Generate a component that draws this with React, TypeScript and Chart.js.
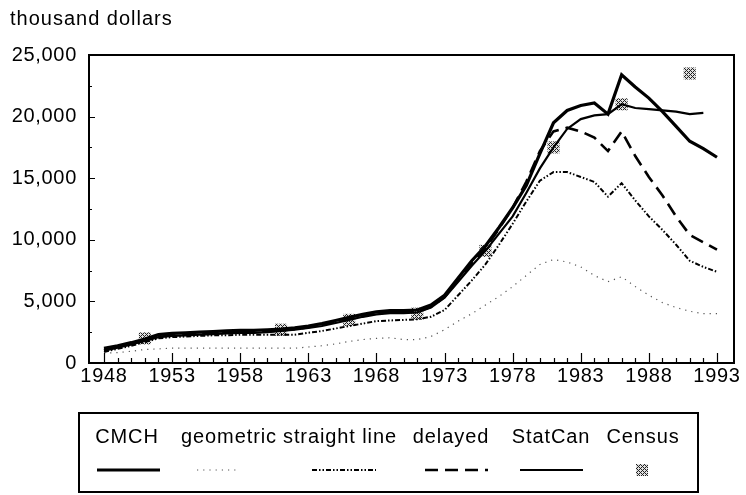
import React, { useEffect, useRef } from 'react';
import { Chart, registerables } from 'chart.js';

Chart.register(...registerables);

// ---------------- data ----------------
const years = [
  1948, 1949, 1950, 1951, 1952, 1953, 1954, 1955, 1956, 1957,
  1958, 1959, 1960, 1961, 1962, 1963, 1964, 1965, 1966, 1967,
  1968, 1969, 1970, 1971, 1972, 1973, 1974, 1975, 1976, 1977,
  1978, 1979, 1980, 1981, 1982, 1983, 1984, 1985, 1986, 1987,
  1988, 1989, 1990, 1991, 1992, 1993,
];

const cmch = [
  1200, 1400, 1650, 1950, 2300, 2400, 2450, 2500, 2550, 2600,
  2650, 2650, 2700, 2750, 2850, 3000, 3200, 3450, 3700, 3950,
  4150, 4250, 4250, 4300, 4700, 5500, 6900, 8300, 9500, 11000,
  12600, 14400, 17000, 19500, 20500, 20900, 21100, 20200, 23400, 22400,
  21500, 20400, 19200, 18000, 17400, 16700,
];

const geometric = [
  800, 850, 950, 1100, 1150, 1200, 1200, 1200, 1200, 1200,
  1200, 1200, 1200, 1200, 1200, 1300, 1400, 1550, 1750, 1900,
  2000, 2050, 1900, 1900, 2150, 2700, 3400, 4000, 4700, 5400,
  6200, 7100, 8000, 8400, 8200, 7800, 7100, 6600, 7000, 6200,
  5500, 4900, 4500, 4200, 4000, 4000,
];

const straightLine = [
  900, 1150, 1400, 1700, 2000, 2100, 2150, 2200, 2250, 2250,
  2300, 2300, 2300, 2300, 2300, 2450, 2600, 2800, 3000, 3200,
  3400, 3450, 3500, 3550, 3750, 4300, 5500, 6700, 8000, 9600,
  11300, 13100, 14800, 15500, 15500, 15100, 14700, 13500, 14600, 13200,
  11900, 10800, 9600, 8300, 7800, 7400,
];

const delayed = [
  1050, 1300, 1550, 1850, 2150, 2250, 2300, 2350, 2400, 2450,
  2500, 2500, 2550, 2650, 2750, 2900, 3100, 3350, 3600, 3850,
  4050, 4150, 4150, 4150, 4550, 5350, 6700, 8100, 9300, 10900,
  12600, 14700, 17200, 18800, 19100, 18800, 18300, 17200, 18800, 16800,
  15100, 13600, 11900, 10400, 9800, 9200,
];

const statCan = [
  1000, 1250, 1500, 1800, 2100, 2200, 2250, 2300, 2350, 2400,
  2450, 2450, 2500, 2600, 2700, 2850, 3000, 3250, 3500, 3750,
  3950, 4050, 4050, 4100, 4500, 5300, 6600, 7900, 9100, 10500,
  11900, 13800, 15800, 17500, 19000, 19800, 20100, 20200, 21000, 20700,
  20600, 20500, 20400, 20200, 20300, null,
];

const censusYears = [1951, 1961, 1966, 1971, 1976, 1981, 1986, 1991];
const censusValues = [2000, 2700, 3500, 4000, 9100, 17500, 21000, 23500];

const xTickYears = [1948, 1953, 1958, 1963, 1968, 1973, 1978, 1983, 1988, 1993];
const seriesNames = ['CMCH', 'geometric', 'straight line', 'delayed', 'StatCan', 'Census'];
const yAxisTitle = 'thousand dollars';

// ---------------- style ----------------
const FONT = '"Liberation Sans", Arial, Helvetica, sans-serif';
const FONT_SIZE = 20;

function makeHatch(): CanvasPattern | string {
  const c = document.createElement('canvas');
  c.width = 4;
  c.height = 4;
  const g = c.getContext('2d');
  if (!g) return '#888';
  g.fillStyle = '#e0e0e0';
  g.fillRect(0, 0, 4, 4);
  g.fillStyle = '#222';
  for (let x = 0; x < 4; x++) {
    for (let y = 0; y < 4; y++) {
      if ((x + y) % 4 === 0 || (x - y + 4) % 4 === 0) g.fillRect(x, y, 1, 1);
    }
  }
  return g.createPattern(c, 'repeat') || '#888';
}

const toPoints = (vals: (number | null)[]) => years.map((yr, i) => ({ x: yr, y: vals[i] }));

// legend layout (pixel positions of the legend box)
const legendBox = { left: 79, top: 413, right: 698, bottom: 492 };
const legendTextCenters = [127, 229, 340, 451, 551, 643];
const legendSampleSpans: [number, number][] = [
  [97, 160], [197, 240], [312, 376], [425, 488], [520, 583], [642, 642],
];
const legendTextBaseline = 443;
const legendSampleY = 470;

const framePlugin = {
  id: 'framePlugin',
  beforeDraw(chart: any) {
    const ctx = chart.ctx;
    ctx.save();
    ctx.fillStyle = '#fff';
    ctx.fillRect(0, 0, chart.width, chart.height);
    ctx.restore();
    (ctx as any).letterSpacing = '0.7px';
  },
  afterDraw(chart: any) {
    const ctx: CanvasRenderingContext2D = chart.ctx;
    const { left, top, right, bottom } = chart.chartArea;
    const xs = chart.scales.x;
    const ys = chart.scales.y;
    ctx.save();
    ctx.strokeStyle = '#000';
    ctx.setLineDash([]);
    // plot frame
    ctx.lineWidth = 2;
    ctx.strokeRect(left, top, right - left, bottom - top);
    // x ticks (inside)
    ctx.lineWidth = 1.2;
    ctx.beginPath();
    for (let yr = years[0]; yr <= years[years.length - 1]; yr++) {
      const px = Math.round(xs.getPixelForValue(yr)) + 0.5;
      const len = (yr - years[0]) % 5 === 0 ? 10 : 5;
      ctx.moveTo(px, bottom);
      ctx.lineTo(px, bottom - len);
    }
    // y ticks (inside)
    for (let v = ys.min; v <= ys.max; v += 2500) {
      const py = Math.round(ys.getPixelForValue(v)) + 0.5;
      const len = v % 5000 === 0 ? 6 : 3;
      ctx.moveTo(left, py);
      ctx.lineTo(left + len, py);
    }
    ctx.stroke();

    // axis title
    (ctx as any).letterSpacing = '1px';
    ctx.fillStyle = '#000';
    ctx.font = `${FONT_SIZE}px ${FONT}`;
    ctx.textAlign = 'left';
    ctx.textBaseline = 'alphabetic';
    ctx.fillText(yAxisTitle, 10, 25);

    // legend
    (ctx as any).letterSpacing = '0.9px';
    ctx.lineWidth = 2;
    ctx.strokeRect(legendBox.left, legendBox.top, legendBox.right - legendBox.left, legendBox.bottom - legendBox.top);
    ctx.textAlign = 'center';
    const dss = chart.data.datasets;
    seriesNames.forEach((name, i) => {
      ctx.fillStyle = '#000';
      ctx.fillText(name, legendTextCenters[i], legendTextBaseline);
      const ds = dss[i];
      const [x0, x1] = legendSampleSpans[i];
      if (ds.showLine === false) {
        const s = 12;
        ctx.fillStyle = ds.backgroundColor;
        ctx.fillRect(x0 - s / 2, legendSampleY - s / 2, s, s);
      } else {
        ctx.beginPath();
        ctx.strokeStyle = ds.borderColor;
        ctx.lineWidth = ds.borderWidth;
        ctx.setLineDash(ds.borderDash || []);
        ctx.moveTo(x0, legendSampleY);
        ctx.lineTo(x1, legendSampleY);
        ctx.stroke();
      }
    });
    ctx.restore();
  },
};

export default function App() {
  const ref = useRef<HTMLCanvasElement>(null);

  useEffect(() => {
    if (!ref.current) return;
    const hatch = makeHatch();
    const lineBase = { pointRadius: 0, tension: 0, fill: false, spanGaps: false };
    const chart = new Chart(ref.current, {
      type: 'line',
      data: {
        datasets: [
          { ...lineBase, label: seriesNames[0], data: toPoints(cmch), borderColor: '#000', borderWidth: 3.2 },
          { ...lineBase, label: seriesNames[1], data: toPoints(geometric), borderColor: '#555', borderWidth: 1.2, borderDash: [1.2, 5] },
          { ...lineBase, label: seriesNames[2], data: toPoints(straightLine), borderColor: '#000', borderWidth: 2, borderDash: [5, 2, 1.5, 2, 1.5, 2] },
          { ...lineBase, label: seriesNames[3], data: toPoints(delayed), borderColor: '#000', borderWidth: 2.6, borderDash: [13, 7] },
          { ...lineBase, label: seriesNames[4], data: toPoints(statCan), borderColor: '#000', borderWidth: 2.2 },
          {
            label: seriesNames[5],
            data: censusYears.map((yr, i) => ({ x: yr, y: censusValues[i] })),
            showLine: false,
            pointStyle: 'rect',
            pointRadius: 8.5,
            pointBorderWidth: 0,
            backgroundColor: hatch as any,
            borderColor: 'rgba(0,0,0,0)',
            pointBackgroundColor: hatch as any,
          } as any,
        ],
      },
      options: {
        animation: false,
        responsive: false,
        maintainAspectRatio: false,
        layout: { padding: { top: 55, right: 12, left: 0, bottom: 0 } },
        plugins: {
          legend: { display: false },
          tooltip: { enabled: false },
          title: { display: false },
        },
        scales: {
          x: {
            type: 'linear',
            min: 1946.9,
            max: 1994.25,
            grid: { display: false, drawTicks: false },
            border: { display: false },
            afterBuildTicks: (scale: any) => {
              scale.ticks = xTickYears.map((v) => ({ value: v }));
            },
            afterFit: (scale: any) => {
              scale.height = 132;
            },
            ticks: {
              autoSkip: false,
              maxRotation: 0,
              padding: 1,
              color: '#000',
              font: { family: FONT, size: FONT_SIZE },
              callback: (v: any) => String(v),
            },
          },
          y: {
            type: 'linear',
            min: 0,
            max: 25000,
            grid: { display: false, drawTicks: false },
            border: { display: false },
            afterFit: (scale: any) => {
              scale.width = 89;
            },
            ticks: {
              stepSize: 5000,
              padding: 12,
              color: '#000',
              font: { family: FONT, size: FONT_SIZE },
              callback: (v: any) => Number(v).toLocaleString('en-US'),
            },
          },
        },
      },
      plugins: [framePlugin],
    } as any);
    return () => chart.destroy();
  }, []);

  return (
    <div style={{ position: 'fixed', left: 0, top: 0, width: 746, height: 495, background: '#fff' }}>
      <canvas ref={ref} width={746} height={495} style={{ display: 'block' }} />
    </div>
  );
}
